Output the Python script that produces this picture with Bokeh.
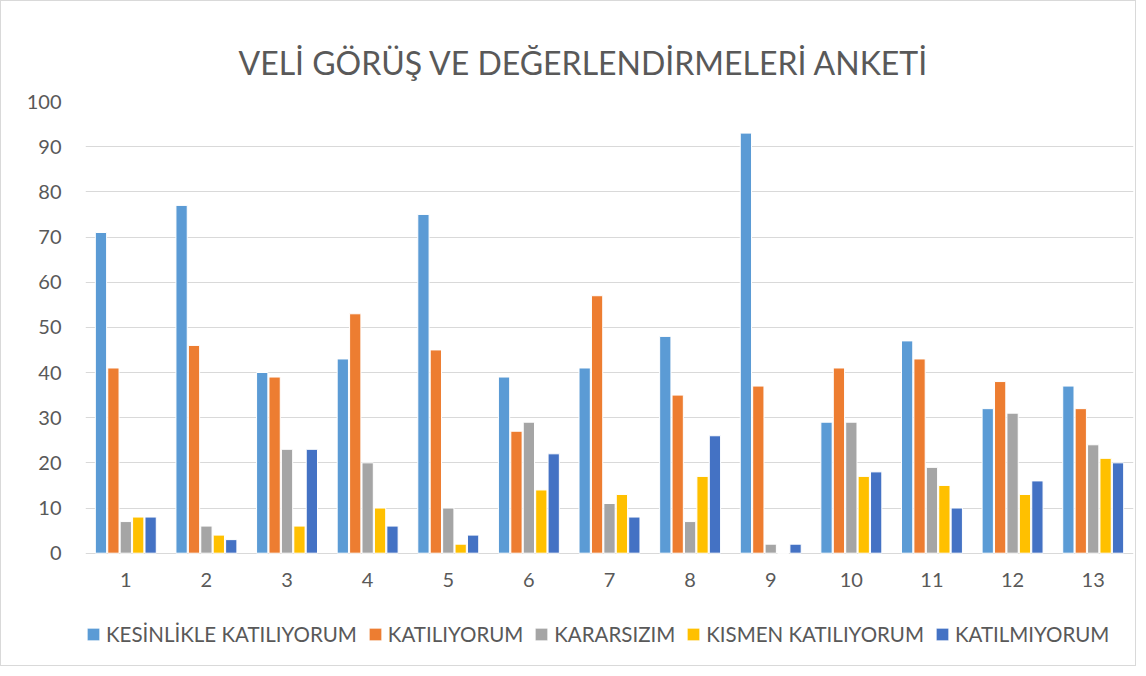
from bokeh.plotting import figure
from bokeh.models import ColumnDataSource, FactorRange, Range1d, Legend, LegendItem, FixedTicker
from bokeh.transform import dodge
from bokeh.embed import file_html
from bokeh.resources import INLINE

title_text = "VELİ GÖRÜŞ VE DEĞERLENDİRMELERİ ANKETİ"
categories = [str(i) for i in range(1, 14)]
series_names = ["KESİNLİKLE KATILIYORUM", "KATILIYORUM", "KARARSIZIM", "KISMEN KATILIYORUM", "KATILMIYORUM"]
kesinlikle = [71, 77, 40, 43, 75, 39, 41, 48, 93, 29, 47, 32, 37]
katiliyorum = [41, 46, 39, 53, 45, 27, 57, 35, 37, 41, 43, 38, 32]
kararsizim = [7, 6, 23, 20, 10, 29, 11, 7, 2, 29, 19, 31, 24]
kismen = [8, 4, 6, 10, 2, 14, 13, 17, 0, 17, 15, 13, 21]
katilmiyorum = [8, 3, 23, 6, 4, 22, 8, 26, 2, 18, 10, 16, 20]
y_ticks = [0, 10, 20, 30, 40, 50, 60, 70, 80, 90, 100]
colors = ["#5B9BD5", "#ED7D31", "#A5A5A5", "#FFC000", "#4472C4"]

FONT = "Lato"
TXT = "#595959"

src = ColumnDataSource(dict(x=categories, s0=kesinlikle, s1=katiliyorum, s2=kararsizim,
                            s3=kismen, s4=katilmiyorum))

# frame spans down to the legend; the value axis 0..100 occupies the upper part
p = figure(width=1136, height=666, x_range=FactorRange(factors=categories),
           y_range=Range1d(-24.2, 100), output_backend="svg", toolbar_location=None,
           min_border_left=84, min_border_right=4, min_border_top=100, min_border_bottom=5,
           title=title_text)
p.title.align = "left"
p.title.offset = 153
p.title.text_font = FONT
p.title.text_font_size = "32px"
p.title.text_font_style = "normal"
p.title.text_color = TXT
p.title.standoff = 39

step = 0.154
items = []
for i, name in enumerate(series_names):
    r = p.vbar(x=dodge("x", (i - 2) * step, range=p.x_range), top="s%d" % i, width=0.14,
               source=src, fill_color=colors[i], line_color="white", line_width=1)
    items.append(LegendItem(label=name, renderers=[r]))

p.yaxis.ticker = FixedTicker(ticks=y_ticks)
p.ygrid.ticker = FixedTicker(ticks=y_ticks)
p.ygrid.grid_line_color = "#d9d9d9"
p.ygrid.grid_line_width = 1
p.xgrid.grid_line_color = None
p.xaxis.fixed_location = 0

for ax in (p.xaxis, p.yaxis):
    ax.axis_line_color = None
    ax.major_tick_line_color = None
    ax.minor_tick_line_color = None
    ax.major_label_text_font = FONT
    ax.major_label_text_font_size = "20px"
    ax.major_label_text_color = TXT
p.yaxis.major_label_standoff = 18
p.xaxis.major_label_standoff = 14
p.outline_line_color = None

legend = Legend(items=items, orientation="horizontal", location=(0, 16),
                label_text_font=FONT, label_text_font_size="20.5px", label_text_color=TXT,
                glyph_width=16, glyph_height=16, spacing=10, label_standoff=5,
                border_line_color=None, background_fill_alpha=0, padding=0, margin=0)
p.add_layout(legend, "center")
p.styles = {"border": "1px solid #d9d9d9"}

open("out.html", "w").write(file_html(p, INLINE))
